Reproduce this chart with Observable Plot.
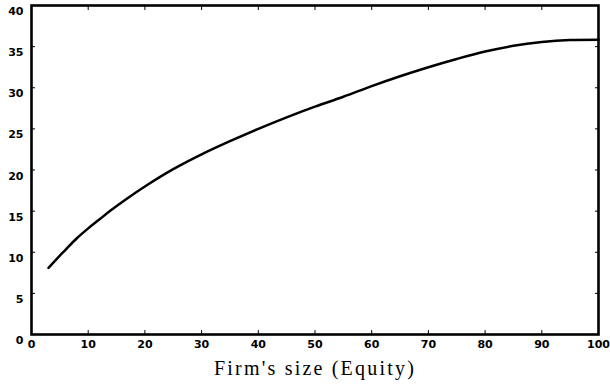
<!DOCTYPE html>
<html>
<head>
<meta charset="utf-8">
<script src="https://cdn.jsdelivr.net/npm/d3@7"></script>
<script src="https://cdn.jsdelivr.net/npm/@observablehq/plot@0.6"></script>
<style>
  html, body { margin: 0; padding: 0; background: #fff; }
  g[font-family="Liberation Serif"] text { letter-spacing: 2.2px; }
</style>
</head>
<body>
<div id="chart"></div>
<script>
const xValues = [3, 5, 6, 8, 10, 12, 14, 17, 20, 25, 30, 35, 40, 45, 50, 55, 60, 65, 70, 75, 80, 85, 90, 95, 100];
const yValues = [8.1, 9.6, 10.3, 11.7, 12.9, 14.0, 15.1, 16.6, 18.0, 20.1, 21.9, 23.5, 25.0, 26.4, 27.7, 28.9, 30.2, 31.4, 32.5, 33.5, 34.4, 35.1, 35.55, 35.8, 35.85];
const xTicks = [0, 10, 20, 30, 40, 50, 60, 70, 80, 90, 100];
const yTicks = [0, 5, 10, 15, 20, 25, 30, 35, 40];
const xTitle = "Firm's size (Equity)";

const data = xValues.map((x, i) => ({x, y: yValues[i]}));

const chart = Plot.plot({
  width: 610,
  height: 384,
  marginLeft: 31,
  marginRight: 12,
  marginTop: 5,
  marginBottom: 50,
  style: {fontFamily: "DejaVu Sans", fontWeight: "bold", fontSize: "11px", color: "#000", background: "#fff"},
  x: {domain: [0, 100]},
  y: {domain: [0, 40]},
  marks: [
    Plot.axisX({anchor: "bottom", ticks: xTicks, tickSize: 0, tickPadding: 6, label: null}),
    Plot.axisY({anchor: "left", ticks: yTicks, tickSize: 0, tickPadding: 8, dy: 6, label: null}),
    Plot.axisX({anchor: "bottom", ticks: xTicks, tickSize: -4, tickFormat: () => "", label: null}),
    Plot.axisX({anchor: "top", ticks: xTicks, tickSize: -4, tickFormat: () => "", label: null}),
    Plot.axisY({anchor: "left", ticks: yTicks, tickSize: -4, tickFormat: () => "", label: null}),
    Plot.axisY({anchor: "right", ticks: yTicks, tickSize: -4, tickFormat: () => "", label: null}),
    Plot.frame({stroke: "#000", strokeWidth: 2.6}),
    Plot.line(data, {x: "x", y: "y", stroke: "#000", strokeWidth: 2.5, curve: "catmull-rom"}),
    Plot.text([xTitle], {text: d => d, frameAnchor: "bottom", textAnchor: "middle", lineAnchor: "bottom", dy: 40, dx: 0,
      fontFamily: "Liberation Serif", fontWeight: "normal", fontSize: 20})
  ]
});
document.getElementById("chart").appendChild(chart);
</script>
</body>
</html>
